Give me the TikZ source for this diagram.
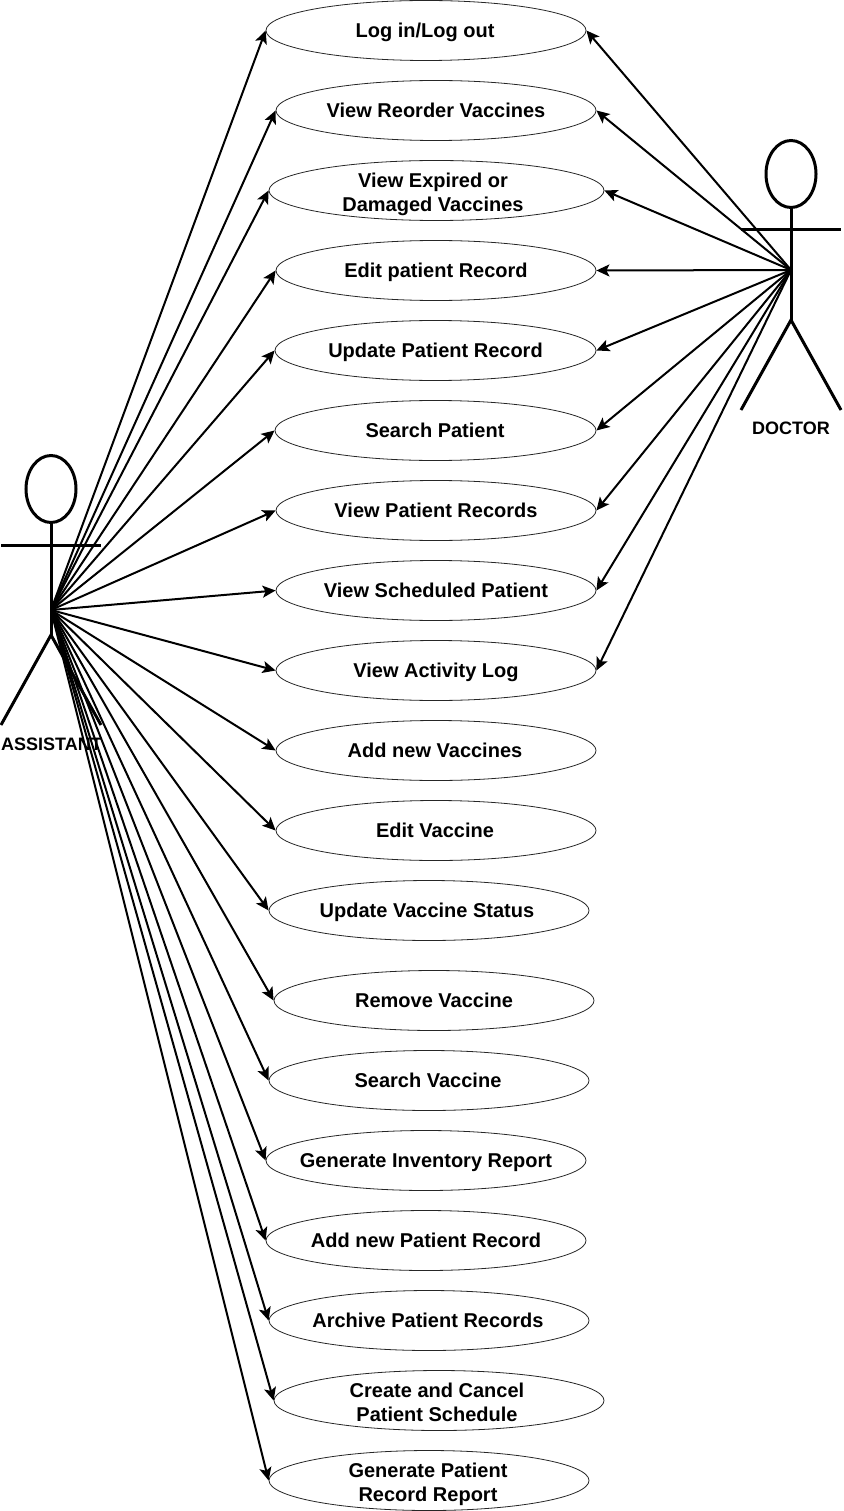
\documentclass[tikz,border=0pt]{standalone}
\usepackage{fontspec}
\setmainfont{Liberation Sans}
\usetikzlibrary{shapes.geometric,arrows.meta}
\newcommand{\topgap}{\rule{0pt}{20.8pt}}
\tikzset{
  x=1pt,y=-1pt,
  usecase/.style={draw=black!85,line width=0.8pt,ellipse,inner sep=0pt,minimum height=60pt},
  uctext/.style={inner sep=0pt,align=center,font=\bfseries\fontsize{20}{24}\selectfont},
  flow/.style={draw=black,line width=2pt,-{Stealth[length=13pt,width=12pt,inset=3pt]}},
  limb/.style={draw=black,line width=3pt},
  actorlabel/.style={inner sep=0pt,font=\bfseries\fontsize{18}{20}\selectfont}
}
\begin{document}
\begin{tikzpicture}
\useasboundingbox (0,0) rectangle (843,1511);
\foreach \nm/\xl/\xr/\yc/\tc/\txt in {
 a/266/586/30/425/{Log in/Log out},
 b/276/596/110/436/{View Reorder Vaccines},
 c/269/604/190/433/{\topgap View Expired or\\Damaged Vaccines},
 d/276/596/270/436/{Edit patient Record},
 e/275/596/350/435.5/{Update Patient Record},
 f/275/596/430/435/{Search Patient},
 g/276/596/510/436/{View Patient Records},
 h/276/596/590/436/{View Scheduled Patient},
 i/276/596/670/436/{View Activity Log},
 j/276/596/750/435/{Add new Vaccines},
 k/276/596/830/435/{Edit Vaccine},
 l/269/589/910/427/{Update Vaccine Status},
 m/274/594/1000/434/{Remove Vaccine},
 n/269/589/1080/428/{Search Vaccine},
 o/266/586/1160/426/{Generate Inventory Report},
 p/266/586/1240/426/{Add new Patient Record},
 q/269/589/1320/428/{Archive Patient Records},
 r/274/604/1400/437/{\topgap Create and Cancel\\Patient Schedule},
 s/269/589/1480/428/{\topgap Generate Patient\\Record Report}}{
  \pgfmathsetmacro{\cx}{(\xl+\xr)/2}
  \pgfmathsetmacro{\ew}{\xr-\xl}
  \node[usecase,minimum width=\ew pt] (\nm) at (\cx,\yc+0.5) {};
  \node[uctext] (\nm t) at (\tc,\yc+3) {\txt\strut};
}
% assistant
\node[limb,ellipse,minimum width=50pt,minimum height=67pt,inner sep=0pt] (ahead) at (51,489) {};
\coordinate (ahub) at (51,610);
\coordinate (ahip) at (51,635);
\coordinate (aarml) at (1,545);
\coordinate (aarmr) at (101,545);
\coordinate (alegl) at (1,725);
\coordinate (alegr) at (101,725);
\draw[limb] (ahead.south) -- (ahip);
\draw[limb] (aarml) -- (aarmr);
\draw[limb] (alegl) -- (ahip) -- (alegr);
\node[actorlabel,anchor=west] (alabel) at (1,744) {ASSISTANT};
% doctor
\node[limb,ellipse,minimum width=50pt,minimum height=67pt,inner sep=0pt] (dhead) at (791,174) {};
\coordinate (dhub) at (791,270);
\coordinate (dhip) at (791,320);
\coordinate (darml) at (741,230);
\coordinate (darmr) at (841,230);
\coordinate (dlegl) at (741,410);
\coordinate (dlegr) at (841,410);
\draw[limb] (dhead.south) -- (dhip);
\draw[limb] (darml) -- (darmr);
\draw[limb] (dlegl) -- (dhip) -- (dlegr);
\node[actorlabel] (dlabel) at (791,428) {DOCTOR};
% connectors
\foreach \nm in {a,b,c,d,e,f,g,h,i,j,k,l,m,n,o,p,q,r,s}
  \draw[flow] (ahub) -- (\nm.west);
\foreach \nm in {a,b,c,d,e,f,g,h,i}
  \draw[flow] (dhub) -- (\nm.east);
\end{tikzpicture}
\end{document}
